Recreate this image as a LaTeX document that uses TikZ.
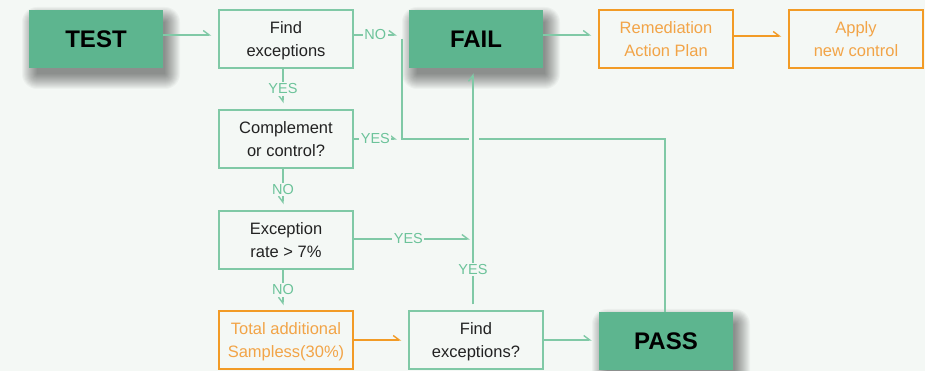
\documentclass[tikz,border=0pt]{standalone}
\usepackage{fontspec}
\setmainfont{Liberation Sans}
\usetikzlibrary{arrows.meta}
\definecolor{bg}{HTML}{F4F8F5}
\definecolor{gfill}{HTML}{5DB58F}
\definecolor{gline}{HTML}{80C9A6}
\definecolor{gtext}{HTML}{6CC39A}
\definecolor{orn}{HTML}{F29B26}
\definecolor{orntext}{HTML}{F2A447}
\definecolor{txt}{HTML}{222222}
\begin{document}
\begin{tikzpicture}[x=1pt,y=-1pt,
  bigbox/.style={fill=gfill, minimum width=134pt, minimum height=58pt, inner sep=0pt,
    font=\fontsize{24}{28}\selectfont\bfseries, text=black},
  gbox/.style={draw=gline, line width=1.4pt, fill=bg, minimum width=134pt, minimum height=58pt,
    inner sep=0pt, align=center, text=txt, text depth=0pt, font=\fontsize{16.5}{23.5}\selectfont},
  obox/.style={gbox, draw=orn, text=orntext},
  gl/.style={draw=gline, line width=1.4pt},
  ol/.style={draw=orn, line width=1.4pt},
  harp/.style={-{Straight Barb[left,length=6pt,width=9pt]}},
  harpR/.style={-{Straight Barb[right,length=6pt,width=9pt]}},
  lbl/.style={fill=bg, inner sep=1.5pt, text=gtext, font=\fontsize{14.5}{14.5}\selectfont},
  shlayer/.style={fill=black, opacity=0.032}]

\useasboundingbox (0,0) rectangle (932,371);
\fill[bg] (0,0) rectangle (925,371);
\fill[white] (925,0) rectangle (932,371);

% soft shadows of the three result boxes
\foreach \cx/\cy in {96/39, 476/39, 666/341}{
  \foreach \r in {0,...,15}{
    \fill[shlayer, rounded corners=\r pt]
      (\cx-67+5-\r+3, \cy-29+9-\r+3) rectangle (\cx+67+5+\r-3, \cy+29+9+\r-3);
  }
}

% nodes
\node[bigbox] (TEST) at (96,39) {TEST};
\node[gbox] (Find) at (286,39) {Find\\exceptions};
\node[bigbox] (FAIL) at (476,39) {FAIL};
\node[obox] (Rem) at (666,39) {Remediation\\Action Plan};
\node[obox] (Apply) at (856,39) {Apply\\new control};
\node[gbox] (Comp) at (286,139) {Complement\\or control?};
\node[gbox] (Exc) at (286,240) {Exception\\rate > 7\%};
\node[obox] (Total) at (286,340) {Total additional\\Sampless(30\%)};
\node[gbox] (Find2) at (476,340) {Find\\exceptions?};
\node[bigbox] (PASS) at (666,341) {PASS};

\coordinate (bt) at (402,35);
\coordinate (bc) at (402,139);

% top row
\draw[gl,harp,shorten >=7pt] ([yshift=4pt]TEST.east) -- ([yshift=4pt]Find.west);
\draw[gl,harp,shorten >=7pt] ([yshift=4pt]FAIL.east) -- ([yshift=4pt]Rem.west);
\draw[ol,harp,shorten >=7pt] ([yshift=3pt]Rem.east) -- ([yshift=3pt]Apply.west);

% NO from Find, YES from Complement into bus
\draw[gl,harp] ([yshift=4pt]Find.east) -- node[lbl]{NO} ([xshift=-5pt]bt);
\draw[gl,harp] (Comp.east) -- node[lbl]{YES} ([xshift=-5pt]bc);
\draw[gl] ([yshift=-4pt]bt) -- (bc) -| ([xshift=-1pt]PASS.north);

% gap where vertical line crosses
\fill[bg] (468.5,135) rectangle (478.5,143);

% Find exceptions? -> FAIL
\draw[gl,harp,shorten <=6pt,shorten >=5pt] (Find2.north -| 473,0) -- node[lbl,pos=0.17]{YES} (FAIL.south -| 473,0);

% vertical down arrows
\draw[gl,harpR,shorten >=6pt] (Find.south -| 283,0) -- node[lbl]{YES} (Comp.north -| 283,0);
\draw[gl,harpR,shorten >=6pt] (Comp.south -| 283,0) -- node[lbl]{NO} (Exc.north -| 283,0);
\draw[gl,harpR,shorten >=5pt] (Exc.south -| 283,0) -- node[lbl]{NO} (Total.north -| 283,0);

% Exception -> YES -> vertical
\draw[gl,harp] ([yshift=1pt]Exc.east) -- node[lbl,pos=0.47]{YES} (470,239);

% bottom row
\draw[ol,harp,shorten >=7pt] (Total.east) -- (Find2.west);
\draw[gl,harp,shorten >=7pt] (Find2.east) -- (PASS.west |- Find2.east);
\end{tikzpicture}
\end{document}
